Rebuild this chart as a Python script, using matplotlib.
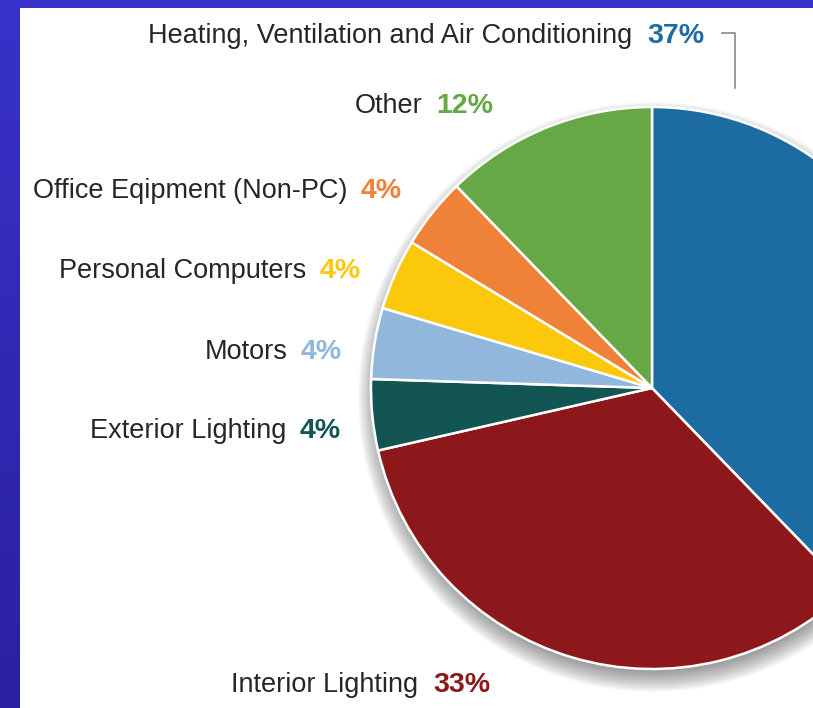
import numpy as np
import matplotlib
matplotlib.use('Agg')
import matplotlib.pyplot as plt
from matplotlib.patches import Circle, Rectangle

# data, clockwise from 12 o'clock
labels = ['Heating, Ventilation and Air Conditioning', 'Interior Lighting', 'Exterior Lighting',
          'Motors', 'Personal Computers', 'Office Eqipment (Non-PC)', 'Other']
values = [37, 33, 4, 4, 4, 4, 12]
colors = ['#1c6ca1', '#8c181c', '#125553', '#92b7dc', '#fcc80c', '#ef8138', '#66a845']

W, H = 813, 708
fig = plt.figure(figsize=(W / 100, H / 100), dpi=100)
ax = fig.add_axes([0, 0, 1, 1])
ax.set_xlim(0, W)
ax.set_ylim(0, H)
ax.set_aspect('equal')
ax.axis('off')

def Y(y):  # pixel-from-top -> data
    return H - y

# blue frame with vertical gradient
grad = np.linspace(0, 1, 256).reshape(-1, 1)
cmap = matplotlib.colors.LinearSegmentedColormap.from_list('bg', ['#3832c9', '#2a20a0'])
ax.imshow(grad, extent=[0, W, 0, H], cmap=cmap, aspect='auto', origin='upper', zorder=0)
ax.add_patch(Rectangle((20, 0), W - 20, H - 8, facecolor='white', edgecolor='none', zorder=1))

cx, cy, R = 652, 388, 281

# soft shadow, mostly below the pie
for k in range(20, -1, -1):
    ax.add_patch(Circle((cx + 1, Y(cy + 9)), R - 6 + k, facecolor='#3a3a3a',
                        edgecolor='none', alpha=0.028, zorder=2))

ax.pie(values, colors=colors, startangle=90, counterclock=False,
       center=(cx, Y(cy)), radius=R, frame=True,
       wedgeprops=dict(edgecolor='white', linewidth=1.8, zorder=3))
ax.set_xlim(0, W)
ax.set_ylim(0, H)
ax.axis('off')

# label layout: (label right edge, percent left edge, y centre)
label_pos = {
    'Heating, Ventilation and Air Conditioning': (632, 647, 36),
    'Other': (422, 436, 106),
    'Office Eqipment (Non-PC)': (347, 361, 191),
    'Personal Computers': (306, 320, 271),
    'Motors': (288, 301, 352),
    'Exterior Lighting': (286, 300, 431),
    'Interior Lighting': (418, 433, 685),
}
fam = ['Liberation Sans', 'DejaVu Sans']
for lab, val, col in zip(labels, values, colors):
    xr, xp, yc = label_pos[lab]
    ax.text(xr, Y(yc), lab, ha='right', va='center', fontsize=19.5,
            color='#262626', family=fam, zorder=5)
    ax.text(xp, Y(yc), f'{val}%', ha='left', va='center', fontsize=20.5,
            color=col, family=fam, fontweight='bold', zorder=5)

# leader line for HVAC
ax.plot([722, 735, 735], [Y(33), Y(33), Y(88)], color='#8a8a8a', lw=1.2, zorder=5)

fig.savefig('out.png', dpi=100)
